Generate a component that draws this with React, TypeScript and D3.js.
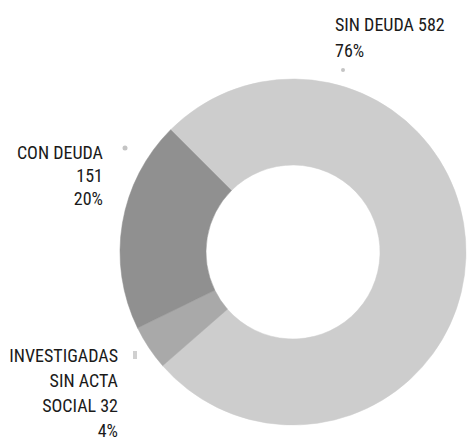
import React from "react";
import * as d3 from "d3";

const categories = ["SIN DEUDA", "INVESTIGADAS SIN ACTA SOCIAL", "CON DEUDA"];
const values = [582, 32, 151];
const percentLabels = ["76%", "4%", "20%"];
const labelLines = [
  ["SIN DEUDA 582", "76%"],
  ["INVESTIGADAS", "SIN ACTA", "SOCIAL 32", "4%"],
  ["CON DEUDA", "151", "20%"],
];
const colors = ["#cdcdcd", "#a9a9a9", "#909090"];

// layout (positions only)
const W = 476, H = 442;
const cx = 293, cy = 252, outerR = 173, innerR = 87;
const startDeg = -45;
const labelLayout = [
  { x: 335, y: 31, anchor: "start", lh: 26, marker: { x: 343, y: 70, w: 4, h: 4, round: true } },
  { x: 118, y: 362, anchor: "end", lh: 25, marker: { x: 135, y: 355, w: 4, h: 8, round: false } },
  { x: 103, y: 159, anchor: "end", lh: 23, marker: { x: 125, y: 148, w: 5, h: 5, round: true } },
];

export default function App() {
  const pie = d3
    .pie<number>()
    .sort(null)
    .value((d) => d)
    .startAngle((startDeg * Math.PI) / 180)
    .endAngle((startDeg * Math.PI) / 180 + 2 * Math.PI);
  const arcs = pie(values);
  const arc = d3.arc<d3.PieArcDatum<number>>().innerRadius(innerR).outerRadius(outerR);

  return (
    <svg
      width={W}
      height={H}
      style={{ position: "absolute", left: 0, top: 0, background: "#fff" }}
      fontFamily="'Liberation Sans Narrow', 'Arial Narrow', 'Roboto Condensed', 'Liberation Sans', sans-serif"
    >
      <rect width={W} height={H} fill="#fff" />
      <g transform={`translate(${cx},${cy})`}>
        {arcs.map((a, i) => (
          <path key={categories[i]} d={arc(a) || ""} fill={colors[i]} stroke={colors[i]} strokeWidth={0.5} />
        ))}
      </g>
      {labelLayout.map((l, i) => (
        <g key={categories[i]}>
          {l.marker.round ? (
            <circle cx={l.marker.x} cy={l.marker.y} r={l.marker.w / 2} fill="#c4c4c4" />
          ) : (
            <rect
              x={l.marker.x - l.marker.w / 2}
              y={l.marker.y - l.marker.h / 2}
              width={l.marker.w}
              height={l.marker.h}
              fill="#d0d0d0"
            />
          )}
          <text x={l.x} y={l.y} textAnchor={l.anchor as any} fontSize={18} fill="#1a1a1a">
            {labelLines[i].map((t, j) => (
              <tspan key={j} x={l.x} y={l.y + j * l.lh}>
                {t}
              </tspan>
            ))}
          </text>
        </g>
      ))}
    </svg>
  );
}
